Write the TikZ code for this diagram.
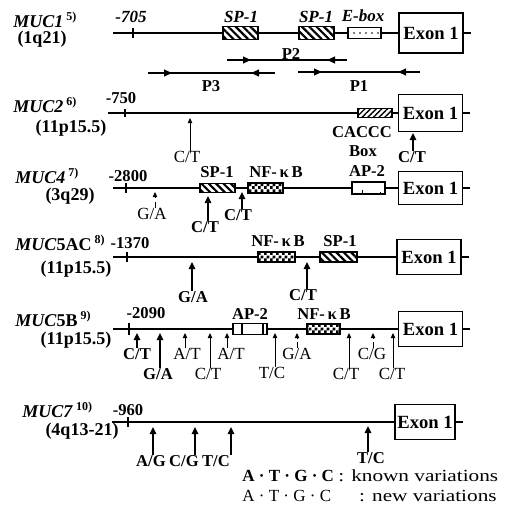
\documentclass[tikz,border=0pt]{standalone}
\usepackage{fontspec}
\setmainfont{Liberation Serif}
\usetikzlibrary{arrows.meta,patterns,patterns.meta}
\pgfdeclarepatternformonly{finechecks}{\pgfpointorigin}{\pgfqpoint{3pt}{3pt}}{\pgfqpoint{3pt}{3pt}}{%
  \pgfpathrectangle{\pgfpointorigin}{\pgfqpoint{1.5pt}{1.5pt}}%
  \pgfpathrectangle{\pgfqpoint{1.5pt}{1.5pt}}{\pgfqpoint{1.5pt}{1.5pt}}%
  \pgfusepath{fill}}

\begin{document}
\begin{tikzpicture}[x=0.5pt, y=-0.5pt,
  every node/.style={inner sep=0pt, font=\fontsize{8.3}{9.5}\selectfont\bfseries},
  gene/.style={line width=0.8pt},
  exon/.style={draw, line width=0.8pt, minimum width=32pt, minimum height=17.5pt, font=\fontsize{9.3}{11}\selectfont\bfseries},
  elem/.style={draw, line width=0.7pt, minimum width=17.5pt, minimum height=5pt, preaction={fill=white}},
  sphatch/.style={elem, pattern={Lines[angle=-45,distance=2.6pt,line width=1.1pt]}},
  cahatch/.style={elem, pattern={Lines[angle=45,distance=2pt,line width=0.7pt]}},
  nfcheck/.style={elem, pattern=finechecks},
  eboxdots/.style={elem, pattern={Dots[distance=3pt,radius=0.45pt]}},
  known/.style={-{Triangle[length=3.5pt,width=3.2pt]}, line width=1pt},
  novel/.style={-{Triangle[length=2.6pt,width=2.2pt]}, line width=0.5pt},
  primer/.style={line width=0.8pt},
  primtip/.style={primer, -{Triangle[length=4pt,width=3.4pt]}},
  kn/.style={font=\fontsize{8.3}{9.5}\selectfont\bfseries},
  knit/.style={font=\fontsize{8.5}{9.5}\selectfont\bfseries\itshape},
  nw/.style={font=\fontsize{8.5}{9.5}\selectfont},
  gname/.style={anchor=west, font=\fontsize{9}{10}\selectfont\bfseries},
  chrom/.style={font=\fontsize{9}{10}\selectfont\bfseries},
  legend/.style={anchor=west, font=\fontsize{8.5}{9.5}\selectfont}]
\useasboundingbox (0,0) rectangle (511,519);

% MUC1
\node[gname] (g1) at (13,20) {\textit{MUC1}\,\textsuperscript{5)}};
\node[chrom] (c1) at (42,39) {(1q21)};
\node[knit] (n1) at (131,17) {-705};
\coordinate (m1s) at (113,33);
\coordinate (t1) at (133,33);
\node[sphatch, minimum height=6.5pt] (m1sp1) at (240.5,33) {};
\node[sphatch, minimum height=6.5pt] (m1sp2) at (316.5,33) {};
\node[eboxdots, minimum width=16.5pt, minimum height=5.5pt] (m1eb) at (364.5,33) {};
\node[exon, minimum height=20pt] (ex1) at (431,33) {Exon 1};
\draw[gene] (m1s) -- (m1sp1) -- (m1sp2) -- (m1eb) -- (ex1);
\draw[gene] (ex1.east) -- ++(7,0);
\draw[gene] ([yshift=2.5pt]t1) -- ([yshift=-2.5pt]t1);
\node[knit] (l1a) at (241,17) {SP-1};
\node[knit] (l1b) at (316,17) {SP-1};
\node[knit] (l1c) at (363,16) {E-box};
% primers
\coordinate (p3s) at (148,73);
\coordinate (p3e) at (275,73);
\draw[primer] (p3s) -- (p3e);
\draw[primtip] (p3s) -- ++(24,0);
\draw[primtip] (p3e) -- ++(-24,0);
\node[kn] (p3) at (211,86) {P3};
\coordinate (p2s) at (227,60);
\coordinate (p2e) at (347,60);
\draw[primer] (p2s) -- (p2e);
\draw[primtip] (p2s) -- ++(24,0);
\draw[primtip] (p2e) -- ++(-20,0);
\node[kn] (p2) at (291,54) {P2};
\coordinate (p1s) at (298,72);
\coordinate (p1e) at (420,72);
\draw[primer] (p1s) -- (p1e);
\draw[primtip] (p1s) -- ++(24,0);
\draw[primtip] (p1e) -- ++(-22,0);
\node[kn] (p1) at (359,86) {P1};

% MUC2
\node[gname] (g2) at (13,105) {\textit{MUC2}\,\textsuperscript{6)}};
\node[chrom] (c2) at (71,128) {(11p15.5)};
\node[kn] (n2) at (121,98) {-750};
\coordinate (m2s) at (108,113);
\coordinate (t2) at (125,113);
\node[cahatch, minimum width=17pt, minimum height=4.5pt] (m2ca) at (375,113) {};
\node[exon, minimum height=18.5pt] (ex2) at (430.5,113) {Exon 1};
\draw[gene] (m2s) -- (m2ca) -- (ex2);
\draw[gene] (ex2.east) -- ++(7,0);
\draw[gene] ([yshift=2pt]t2) -- ([yshift=-2pt]t2);
\node[kn] (l2a) at (362,132) {CACCC};
\node[kn] (l2b) at (363,151) {Box};
\node[nw] (v2a) at (187,157) {C/T};
\draw[novel] ([xshift=1.5pt]v2a.north) -- ++(0,-33);
\node[kn] (v2b) at (412,157) {C/T};
\draw[known] ([xshift=0.5pt]v2b.north) -- ++(0,-18);

% MUC4
\node[gname] (g4) at (15,176) {\textit{MUC4}\,\textsuperscript{7)}};
\node[chrom] (c4) at (70,196) {(3q29)};
\node[kn] (n4) at (128,176) {-2800};
\coordinate (m4s) at (113,188);
\coordinate (t4) at (126,188);
\node[sphatch, minimum height=4.5pt] (m4sp) at (217.5,188) {};
\node[nfcheck] (m4nf) at (265.5,188) {};
\node[elem, minimum width=16.5pt, minimum height=6pt] (m4ap) at (368.5,188) {};
\node[exon, minimum height=16.5pt] (ex4) at (430.5,188) {Exon 1};
\draw[gene] (m4s) -- (m4sp) -- (m4nf) -- (m4ap) -- (ex4);
\draw[gene] (ex4.east) -- ++(7,0);
\draw[gene] ([yshift=2.5pt]t4) -- ([yshift=-2.5pt]t4);
\draw[line width=0.6pt] ([xshift=-3pt]m4ap.south) -- ++(0,2.5pt);
\draw[line width=0.6pt] ([xshift=6pt]m4ap.south) -- ++(0,1.5pt);
\node[kn] (l4a) at (217,172) {SP-1};
\node[kn] (l4b) at (276,172) {NF-\,κ\,B};
\node[kn] (l4c) at (367,171) {AP-2};
\node[nw] (v4a) at (152,214) {G/A};
\draw[novel, densely dashed] ([xshift=1.5pt]v4a.north) -- ++(0,-16);
\node[kn] (v4b) at (205,227) {C/T};
\draw[known] ([xshift=1.5pt]v4b.north) -- ++(0,-25);
\node[kn] (v4c) at (238,215) {C/T};
\draw[known] ([xshift=2pt]v4c.north) -- ++(0,-17);

% MUC5AC
\node[gname] (g5a) at (15,243) {\textit{MUC}5AC\,\textsuperscript{8)}};
\node[chrom] (c5a) at (76,269) {(11p15.5)};
\node[kn] (n5a) at (130,243) {-1370};
\coordinate (m5as) at (113,257);
\coordinate (t5a) at (127,257);
\node[nfcheck, minimum width=18.5pt] (m5anf) at (276.5,257) {};
\node[sphatch, minimum width=18.5pt] (m5asp) at (338.5,257) {};
\node[exon] (ex5a) at (429,257) {Exon 1};
\draw[gene] (m5as) -- (m5anf) -- (m5asp) -- (ex5a);
\draw[gene] (ex5a.east) -- ++(7,0);
\draw[gene] ([yshift=2.5pt]t5a) -- ([yshift=-2.5pt]t5a);
\node[kn] (l5aa) at (278,241) {NF-\,κ\,B};
\node[kn] (l5ab) at (340,241) {SP-1};
\node[kn] (v5aa) at (193,297) {G/A};
\draw[known] ([xshift=-0.5pt]v5aa.north) -- ++(0,-29);
\node[kn] (v5ab) at (303,295) {C/T};
\draw[known] ([xshift=2pt]v5ab.north) -- ++(0,-27);

% MUC5B
\node[gname] (g5b) at (15,319) {\textit{MUC}5B\,\textsuperscript{9)}};
\node[chrom] (c5b) at (76,340) {(11p15.5)};
\node[kn] (n5b) at (146,313) {-2090};
\coordinate (m5bs) at (113,329);
\coordinate (t5b) at (129,329);
\node[elem, minimum width=17pt, minimum height=5.5pt] (m5bap) at (250,329) {};
\node[nfcheck, minimum width=16.5pt] (m5bnf) at (323.5,329) {};
\node[exon] (ex5b) at (430.5,329) {Exon 1};
\draw[gene] (m5bs) -- (m5bap) -- (m5bnf) -- (ex5b);
\draw[gene] (ex5b.east) -- ++(7,0);
\draw[gene] ([yshift=3pt]t5b) -- ([yshift=-3pt]t5b);
\draw[line width=0.6pt] ([xshift=-4pt]m5bap.north) -- ([xshift=-4pt]m5bap.south);
\draw[line width=0.6pt] ([xshift=6.5pt]m5bap.north) -- ([xshift=6.5pt]m5bap.south);
\node[kn] (l5ba) at (250,314) {AP-2};
\node[kn] (l5bb) at (324,314) {NF-\,κ\,B};
\node[kn] (v5ba) at (137,354) {C/T};
\draw[known] (v5ba.north) -- ++(0,-15);
\node[kn] (v5bb) at (158,374) {G/A};
\draw[known] ([xshift=1pt]v5bb.north) -- ++(0,-35);
\node[nw] (v5bc) at (187,354) {A/T};
\draw[novel] ([xshift=-1pt]v5bc.north) -- ++(0,-15);
\node[nw] (v5bd) at (208,374) {C/T};
\draw[novel] ([xshift=1pt]v5bd.north) -- ++(0,-35);
\node[nw] (v5be) at (231,354) {A/T};
\draw[novel] ([xshift=-2pt]v5be.north) -- ++(0,-15);
\node[nw] (v5bf) at (272,373) {T/C};
\draw[novel] ([xshift=1.5pt]v5bf.north) -- ++(0,-34);
\node[nw] (v5bg) at (297,354) {G/A};
\draw[novel, densely dashed] (v5bg.north) -- ++(0,-15);
\node[nw] (v5bh) at (346,374) {C/T};
\draw[novel] ([xshift=1.5pt]v5bh.north) -- ++(0,-35);
\node[nw] (v5bi) at (372,354) {C/G};
\draw[novel, densely dashed] ([xshift=0.5pt]v5bi.north) -- ++(0,-15);
\node[nw] (v5bj) at (392,374) {C/T};
\draw[novel] ([xshift=0.5pt]v5bj.north) -- ++(0,-35);

% MUC7
\node[gname] (g7) at (22,410) {\textit{MUC7}\,\textsuperscript{10)}};
\node[chrom] (c7) at (82,431) {(4q13-21)};
\node[kn] (n7) at (128,410) {-960};
\coordinate (m7s) at (112,422);
\coordinate (t7) at (128,422);
\node[exon, minimum width=30pt] (ex7) at (425,422) {Exon 1};
\draw[gene] (m7s) -- (ex7);
\draw[gene] (ex7.east) -- ++(7,0);
\draw[gene] ([yshift=2.5pt]t7) -- ([yshift=-2.5pt]t7);
\node[kn] (v7a) at (151,461) {A/G};
\draw[known] ([xshift=1pt]v7a.north) -- ++(0,-28);
\node[kn] (v7b) at (184,461) {C/G};
\draw[known] ([xshift=5.5pt]v7b.north) -- ++(0,-28);
\node[kn] (v7c) at (216,461) {T/C};
\draw[known] ([xshift=7.5pt]v7c.north) -- ++(0,-28);
\node[kn] (v7d) at (371,458) {T/C};
\draw[known] ([xshift=-1.5pt]v7d.north) -- ++(0,-26);

% legend
\node[legend] (lg1) at (242,476) {\textbf{A · T · G · C} \scalebox{1.25}[1]{: known variations}};
\node[legend] (lg2) at (242,496) {A · T · G · C\hspace{14pt}\scalebox{1.25}[1]{: new variations}};
\end{tikzpicture}
\end{document}
